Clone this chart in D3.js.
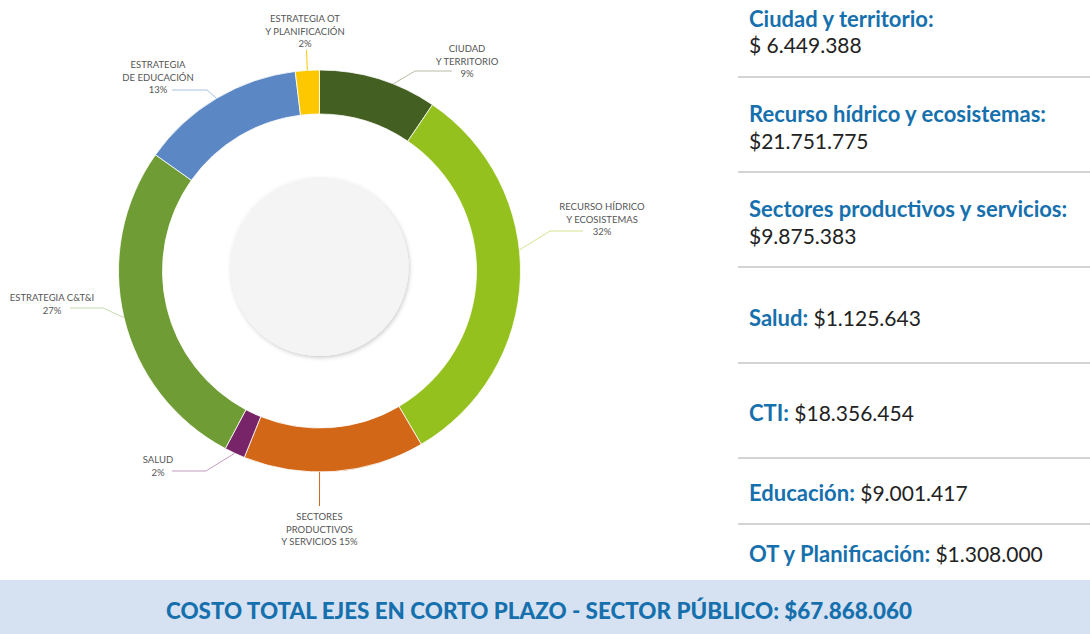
<!DOCTYPE html>
<html>
<head>
<meta charset="utf-8">
<script src="https://cdn.jsdelivr.net/npm/d3@7"></script>
<style>
  body { margin: 0; background: #fff; }
  svg { display: block; font-family: Lato, "Open Sans", sans-serif; }
</style>
</head>
<body>
<div class="chart"></div>
<script>
var svgWidth = 1090;
var svgHeight = 634;

// data
var categories = ["Ciudad y territorio", "Recurso hídrico y ecosistemas", "Sectores productivos y servicios",
                  "Salud", "CTI", "Educación", "OT y Planificación"];
var values = [6449388, 21751775, 9875383, 1125643, 18356454, 9001417, 1308000];
var sliceLabels = [
    ["CIUDAD", "Y TERRITORIO", "9%"],
    ["RECURSO HÍDRICO", "Y ECOSISTEMAS", "32%"],
    ["SECTORES", "PRODUCTIVOS", "Y SERVICIOS 15%"],
    ["SALUD", "2%"],
    ["ESTRATEGIA C&T&I", "27%"],
    ["ESTRATEGIA", "DE EDUCACIÓN", "13%"],
    ["ESTRATEGIA OT", "Y PLANIFICACIÓN", "2%"]
];
var panelNames = ["Ciudad y territorio:", "Recurso hídrico y ecosistemas:", "Sectores productivos y servicios:",
                  "Salud:", "CTI:", "Educación:", "OT y Planificación:"];
var panelValues = ["$ 6.449.388", "$21.751.775", "$9.875.383", "$1.125.643", "$18.356.454", "$9.001.417", "$1.308.000"];
var totalText = "COSTO TOTAL EJES EN CORTO PLAZO - SECTOR PÚBLICO: $67.868.060";

var colors = ["#435f21", "#95c11e", "#d26717", "#772468", "#6f9c35", "#5b87c5", "#fec800"];
var leaderColors = ["#b9bca6", "#d5e390", "#d26717", "#c39cbe", "#c8daae", "#aac1e3", "#fec800"];

// label layout, relative to donut centre: text x, first line y, angle nudge (deg), leader elbow, leader end
var cx = 319.5, cy = 271;
var labelLayout = [
    { tx: 147.5, ty: -223, nudge: 4.4, elbow: [95.5, -200], end: [132.5, -200] },
    { tx: 282.5, ty: -65, nudge: -7.9, elbow: [230.5, -40], end: [263.5, -40] },
    { tx: 0, ty: 245, nudge: 4.2, elbow: [0, 235], end: null },
    { tx: -161.5, ty: 188, nudge: 0, elbow: [-113.5, 200], end: [-147.5, 200] },
    { tx: -267.5, ty: 26, nudge: 0, elbow: [-216.5, 37], end: [-249.5, 37] },
    { tx: -161.5, ty: -207, nudge: 0, elbow: [-112.5, -181], end: [-147.5, -181] },
    { tx: -14.5, ty: -253, nudge: 0, elbow: [-13, -221], end: null }
];

var svg = d3.select(".chart")
    .append("svg")
    .attr("width", svgWidth)
    .attr("height", svgHeight);

var defs = svg.append("defs");
var shadow = defs.append("filter").attr("id", "shadow")
    .attr("x", "-20%").attr("y", "-20%").attr("width", "140%").attr("height", "140%");
shadow.append("feDropShadow")
    .attr("dx", 1).attr("dy", 1.5).attr("stdDeviation", 2)
    .attr("flood-color", "#000").attr("flood-opacity", 0.22);

var outerR = 201, innerR = 157;

var pie = d3.pie().sort(null).value(function(d) { return d; });
var arc = d3.arc().innerRadius(innerR).outerRadius(outerR);
var arcs = pie(values);

var chart = svg.append("g")
    .attr("transform", "translate(" + cx + "," + cy + ")");

chart.selectAll("path.slice")
    .data(arcs)
    .enter().append("path")
    .attr("class", "slice")
    .attr("d", arc)
    .attr("fill", function(d, i) { return colors[i]; })
    .attr("stroke", "#fff")
    .attr("stroke-width", 0.8);

// grey centre disc
chart.append("circle")
    .attr("cx", 0)
    .attr("cy", -4)
    .attr("r", 89)
    .attr("fill", "#f4f4f4")
    .attr("filter", "url(#shadow)");

// leader lines
arcs.forEach(function(d, i) {
    var lay = labelLayout[i];
    var a = (d.startAngle + d.endAngle) / 2 + lay.nudge * Math.PI / 180;
    var pts = [[Math.sin(a) * outerR, -Math.cos(a) * outerR], lay.elbow];
    if (lay.end) pts.push(lay.end);
    chart.append("path")
        .attr("d", d3.line()(pts))
        .attr("fill", "none")
        .attr("stroke", leaderColors[i])
        .attr("stroke-width", 1);

    var t = chart.append("text")
        .attr("x", lay.tx)
        .attr("y", lay.ty)
        .attr("text-anchor", "middle")
        .attr("dominant-baseline", "central")
        .attr("font-size", "9.5px")
        .attr("fill", "#555");
    sliceLabels[i].forEach(function(line, j) {
        t.append("tspan")
            .attr("x", lay.tx)
            .attr("y", lay.ty + j * 12.7)
            .text(line);
    });
});

// right-hand panel
var panelX = 749;
var nameY = [18, 113, 208, 317, 412, 492, 553];
var valueY = [44, 140, 235, null, null, null, null];
var ruleY = [77, 172, 267, 363, 458, 524];

panelNames.forEach(function(name, i) {
    var t = svg.append("text")
        .attr("x", panelX)
        .attr("y", nameY[i])
        .attr("dominant-baseline", "central")
        .attr("font-size", "21px");
    t.append("tspan")
        .attr("font-weight", 700)
        .attr("font-size", "22px")
        .attr("fill", "#1670ad")
        .text(name);
    if (valueY[i] === null) {
        t.append("tspan")
            .attr("fill", "#222")
            .text(" " + panelValues[i]);
    } else {
        svg.append("text")
            .attr("x", panelX)
            .attr("y", valueY[i])
            .attr("dominant-baseline", "central")
            .attr("font-size", "21px")
            .attr("fill", "#222")
            .text(panelValues[i]);
    }
});

svg.selectAll("line.rule")
    .data(ruleY)
    .enter().append("line")
    .attr("class", "rule")
    .attr("x1", 738).attr("x2", svgWidth)
    .attr("y1", function(d) { return d; })
    .attr("y2", function(d) { return d; })
    .attr("stroke", "#aaa")
    .attr("stroke-width", 1.2);

// total banner
svg.append("rect")
    .attr("x", 0).attr("y", 580)
    .attr("width", svgWidth).attr("height", svgHeight - 580)
    .attr("fill", "#d6e2f1");

svg.append("text")
    .attr("x", 166)
    .attr("y", 610)
    .attr("dominant-baseline", "central")
    .attr("font-size", "22px")
    .attr("font-weight", 900)
    .attr("fill", "#1670ad")
    .attr("textLength", 746)
    .attr("lengthAdjust", "spacingAndGlyphs")
    .text(totalText);
</script>
</body>
</html>
